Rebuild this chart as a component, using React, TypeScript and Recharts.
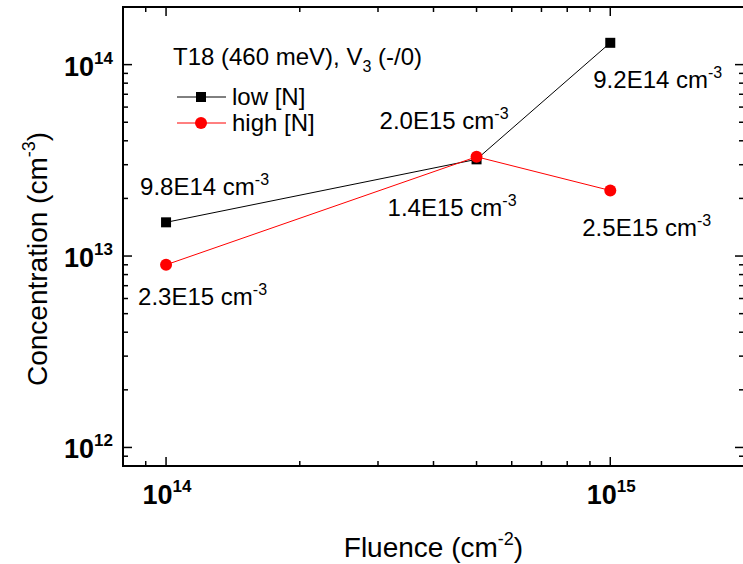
import React from "react"
import { LineChart, Line, XAxis, YAxis, ReferenceArea, LabelList, Legend } from "recharts"

// fluence (cm^-2) and trap concentration (cm^-3)
const fluence = [1e14, 5e14, 1e15]
const lowN = [1.5e13, 3.2e13, 1.3e14]
const highN = [9e12, 3.3e13, 2.2e13]
// nitrogen content written next to each point
const lowNotes = ["9.8E14", "1.4E15", "9.2E14"]
const highNotes = ["2.3E15", "2.0E15", "2.5E15"]

const xTicks = [8e13, 9e13, 1e14, 2e14, 3e14, 4e14, 5e14, 6e14, 7e14, 8e14, 9e14, 1e15, 2e15]
const yTicks = [
    8e11, 9e11, 1e12, 2e12, 3e12, 4e12, 5e12, 6e12, 7e12, 8e12, 9e12,
    1e13, 2e13, 3e13, 4e13, 5e13, 6e13, 7e13, 8e13, 9e13, 1e14, 2e14,
]

const data = fluence.map((f, i) => ({
    f,
    low: lowN[i],
    high: highN[i],
    lowNote: lowNotes[i],
    highNote: highNotes[i],
}))

const FONT = '"Liberation Sans", Arial, Helvetica, sans-serif'
const W = 760
const H = 564
const LEFT = 123
const TOP = 7
const RIGHT = 744
const BOTTOM = 466

const isMajor = (v: number) => Math.abs(Math.log10(v) - Math.round(Math.log10(v))) < 1e-6

function PowerLabel({ x, y, exp, anchor }: { x: number; y: number; exp: number; anchor: string }) {
    return (
        <text x={x} y={y} textAnchor={anchor} fontFamily={FONT} fontWeight="bold" fontSize={27} fill="#000">
            10
            <tspan dy={-12} fontSize={17}>{exp}</tspan>
        </text>
    )
}

function XTick(props: any) {
    const { x, payload } = props
    const v = payload.value
    const major = isMajor(v)
    const len = major ? 9 : 5
    return (
        <g>
            <line x1={x} y1={BOTTOM} x2={x} y2={BOTTOM - len} stroke="#000" strokeWidth={1.5} />
            <line x1={x} y1={TOP} x2={x} y2={TOP + len} stroke="#000" strokeWidth={1.5} />
            {major && <PowerLabel x={x + 1} y={504} exp={Math.round(Math.log10(v))} anchor="middle" />}
        </g>
    )
}

function YTick(props: any) {
    const { y, payload } = props
    const v = payload.value
    const major = isMajor(v)
    const len = major ? 9 : 5
    return (
        <g>
            <line x1={LEFT} y1={y} x2={LEFT + len} y2={y} stroke="#000" strokeWidth={1.5} />
            <line x1={RIGHT} y1={y} x2={RIGHT - len} y2={y} stroke="#000" strokeWidth={1.5} />
            {major && <PowerLabel x={113} y={y + 11} exp={Math.round(Math.log10(v))} anchor="end" />}
        </g>
    )
}

const Square = (props: any) => (
    <rect key={`sq-${props.index}`} x={props.cx - 5} y={props.cy - 5} width={10} height={10} fill="#000" />
)
const Circle = (props: any) => (
    <circle key={`ci-${props.index}`} cx={props.cx} cy={props.cy} r={6} fill="#ff0000" />
)

// text offsets relative to each point
const lowOffsets = [[-26, -27], [-89, 57], [-17, 45]]
const highOffsets = [[-28, 40], [-97, -28], [-28, 46]]

const noteRenderer = (offsets: number[][]) => (props: any) => {
    const { x, y, value, index } = props
    const [dx, dy] = offsets[index]
    return (
        <text x={x + dx} y={y + dy} fontFamily={FONT} fontSize={24} fill="#000">
            {value} cm
            <tspan dy={-10} fontSize={16}>-3</tspan>
        </text>
    )
}

function LegendBox() {
    return (
        <svg width={W} height={H} style={{ position: "absolute", left: 0, top: 0 }}>
            <text x={173} y={65} fontFamily={FONT} fontSize={24} fill="#000">
                T18 (460 meV), V
                <tspan dy={7} fontSize={16}>3</tspan>
                <tspan dy={-7}> (-/0)</tspan>
            </text>
            <line x1={177} y1={97} x2={226} y2={97} stroke="#000" strokeWidth={1} />
            <rect x={196} y={92} width={10} height={10} fill="#000" />
            <text x={232} y={105} fontFamily={FONT} fontSize={24} fill="#000">low [N]</text>
            <line x1={177} y1={123} x2={226} y2={123} stroke="#ff0000" strokeWidth={1} />
            <circle cx={201} cy={123} r={6} fill="#ff0000" />
            <text x={232} y={131} fontFamily={FONT} fontSize={24} fill="#000">high [N]</text>
        </svg>
    )
}

export default function App() {
    return (
        <div style={{ position: "absolute", left: 0, top: 0, width: 743, height: 564, overflow: "hidden", background: "#fff" }}>
            <LineChart width={W} height={H} data={data} margin={{ top: TOP, right: W - RIGHT, left: 0, bottom: 0 }}>
                <XAxis
                    dataKey="f"
                    type="number"
                    scale="log"
                    domain={[8e13, 2e15]}
                    ticks={xTicks}
                    interval={0}
                    allowDataOverflow
                    height={H - BOTTOM}
                    axisLine={false}
                    tickLine={false}
                    tick={<XTick />}
                    label={{
                        value: "Fluence (cm⁻²)",
                        content: () => (
                            <text x={(LEFT + RIGHT) / 2} y={557} textAnchor="middle" fontFamily={FONT} fontSize={28} fill="#000">
                                Fluence (cm
                                <tspan dy={-12} fontSize={18}>-2</tspan>
                                <tspan dy={12}>)</tspan>
                            </text>
                        ),
                    }}
                />
                <YAxis
                    type="number"
                    scale="log"
                    domain={[8e11, 2e14]}
                    ticks={yTicks}
                    interval={0}
                    allowDataOverflow
                    width={LEFT}
                    axisLine={false}
                    tickLine={false}
                    tick={<YTick />}
                    label={{
                        value: "Concentration",
                        content: () => (
                            <text
                                transform={`translate(47, 259) rotate(-90)`}
                                textAnchor="middle"
                                fontFamily={FONT}
                                fontSize={28}
                                fill="#000"
                            >
                                Concentration (cm
                                <tspan dy={-12} fontSize={18}>-3</tspan>
                                <tspan dy={12}>)</tspan>
                            </text>
                        ),
                    }}
                />
                <ReferenceArea x1={8e13} x2={2e15} y1={8e11} y2={2e14} fill="none" stroke="#000" strokeWidth={2} ifOverflow="visible" />
                <Legend layout="horizontal" verticalAlign="middle" align="center" wrapperStyle={{ left: 0, top: 0, width: W, height: H, pointerEvents: "none" }} content={() => <LegendBox />} />
                <Line dataKey="low" stroke="#000" strokeWidth={1} dot={Square} activeDot={false} isAnimationActive={false}>
                    <LabelList dataKey="lowNote" content={noteRenderer(lowOffsets)} />
                </Line>
                <Line dataKey="high" stroke="#ff0000" strokeWidth={1} dot={Circle} activeDot={false} isAnimationActive={false}>
                    <LabelList dataKey="highNote" content={noteRenderer(highOffsets)} />
                </Line>
            </LineChart>
        </div>
    )
}
